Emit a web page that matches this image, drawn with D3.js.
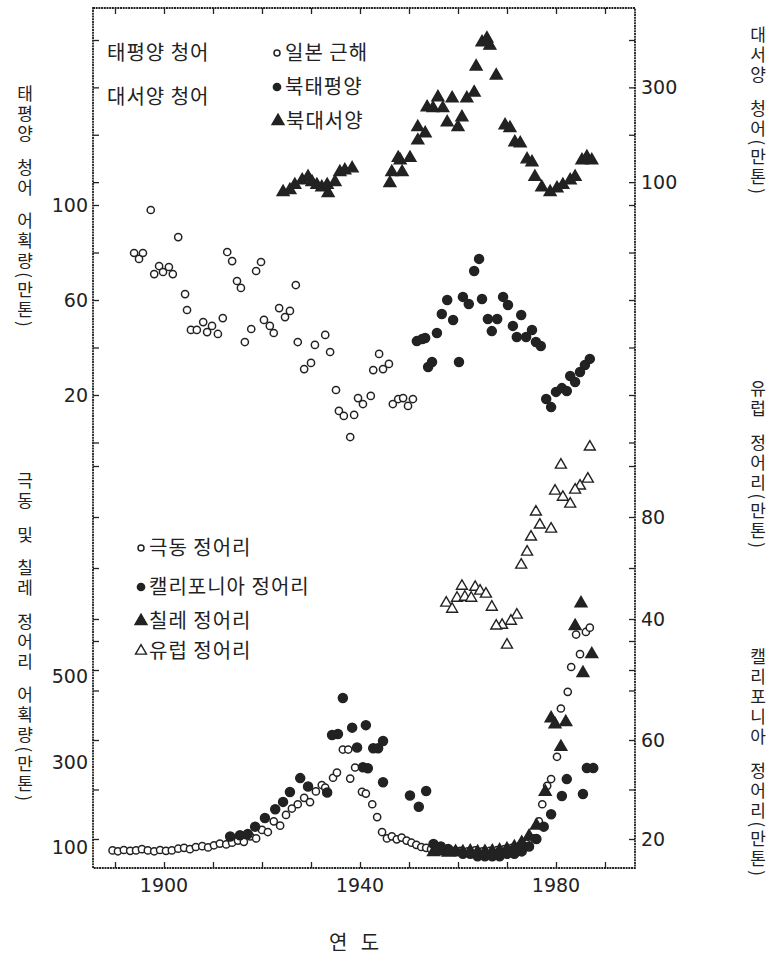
<!DOCTYPE html>
<html>
<head>
<meta charset="utf-8">
<script src="https://cdn.jsdelivr.net/npm/d3@7"></script>
<style>
body{margin:0;background:#fff}
text{font-family:"Noto Sans CJK KR",sans-serif;fill:#222}
.num{font-family:"DejaVu Sans",sans-serif}
</style>
</head>
<body>
<div id="chart"></div>
<script>
// Atlantic herring, 북대서양 (right top axis, 만톤)
const atlYear = [1924.3,1925.7,1926.7,1928.2,1929.4,1930.2,1931.2,1932.2,1933.3,1933.5,1934.9,1935.9,1936.9,1938.4,
  1946.1,1946.5,1948.2,1948.6,1947.8,1950.2,1951.8,1951.8,1953.3,1953.7,1954.9,1955.9,1956.9,1957.8,1958.8,1960.0,
  1960.8,1961.8,1963.3,1963.7,1964.9,1965.9,1966.5,1967.8,1969.6,1970.6,1971.6,1972.7,1974.1,1975.1,1975.7,1977.1,
  1978.8,1980.2,1981.4,1982.9,1983.9,1985.3,1986.3,1987.3];
const atlVal = [79,83,94,104,111,100,94,89,94,77,100,121,125,129,
  98,121,146,121,151,151,188,216,203,258,256,279,256,226,277,216,
  237,277,289,344,395,403,388,325,220,214,184,182,148,142,111,89,
  79,87,94,104,111,146,153,146];

// Pacific herring near Japan, 일본 근해 (left top axis)
const jpHerYear = [1893.9,1894.9,1895.7,1897.3,1898.0,1899.0,1899.8,1901.0,1901.8,1902.9,1904.3,1904.7,1905.5,1906.7,
  1908.0,1908.8,1909.8,1911.0,1912.0,1912.9,1913.9,1914.9,1915.7,1916.5,1917.8,1918.8,1919.8,1920.4,1921.6,1922.4,
  1923.5,1924.7,1925.7,1926.9,1927.3,1928.6,1930.0,1930.8,1932.9,1933.9,1935.1,1935.7,1936.7,1938.0,1938.8,1939.6,
  1940.6,1942.2,1942.7,1943.9,1944.7,1945.9,1946.7,1947.8,1948.8,1949.8,1950.8];
const jpHerVal = [79.8,77.3,79.8,97.9,70.9,74.3,71.8,73.9,70.9,86.5,62.5,55.8,47.4,47.4,
  50.7,46.5,49.1,45.7,52.4,80.2,76.4,68.0,65.1,42.3,47.8,72.2,76.0,51.6,49.1,46.1,
  56.6,52.8,55.4,66.3,42.3,30.9,33.5,41.1,45.3,38.1,22.1,13.3,11.2,2.3,11.6,18.7,
  16.2,19.6,30.5,37.3,30.9,33.1,16.2,18.3,18.7,15.4,18.3];

// North Pacific herring, 북태평양 (left top axis)
const npHerYear = [1951.6,1952.7,1953.3,1953.9,1954.7,1955.7,1956.7,1957.8,1959.0,1960.2,1961.0,1962.2,1963.3,1964.3,
  1964.9,1966.1,1966.9,1968.0,1969.2,1970.2,1971.2,1972.0,1972.9,1973.9,1975.1,1975.9,1976.9,1978.0,1979.0,1980.0,
  1981.2,1982.2,1982.9,1983.9,1984.9,1985.9,1986.9];
const npHerVal = [42.7,43.6,44.0,31.8,33.9,46.1,54.1,60.0,51.6,33.9,61.3,58.3,72.2,77.3,
  60.4,52.0,46.9,52.0,61.3,57.9,49.1,44.4,53.7,44.4,47.4,42.3,40.6,18.3,14.9,21.3,
  22.9,21.7,28.0,25.5,29.7,32.6,35.2];

// European sardine, 유럽 정어리 (right middle axis)
const euYear = [1986.9,1981.0,1986.5,1984.9,1983.9,1979.8,1981.4,1982.9,1975.9,1976.7,1979.0,1974.9,1974.1,1972.9,
  1960.8,1963.5,1964.5,1965.7,1959.8,1961.4,1962.7,1957.6,1958.8,1966.9,1972.0,1970.8,1969.0,1967.8,1970.0];
const euVal = [107.5,100.4,94.9,92.2,90.6,90.2,87.8,85.1,82.0,76.9,75.3,72.2,66.3,61.2,
  52.9,52.5,51.0,49.8,48.2,48.6,48.2,46.3,43.9,44.7,41.6,39.2,37.6,37.3,29.8];

// Far East sardine, 극동 정어리 (left bottom axis)
const feYear = [1889.5,1890.6,1891.8,1893.1,1894.3,1895.5,1896.7,1898.0,1899.2,1900.4,1901.6,1902.9,1904.1,1905.3,
  1906.5,1907.8,1909.0,1910.2,1911.4,1912.7,1913.9,1915.1,1916.3,1917.6,1918.8,1920.0,1921.2,1922.4,1923.7,1924.9,
  1926.1,1927.3,1928.6,1929.8,1931.0,1932.2,1932.9,1934.5,1935.3,1936.5,1937.6,1938.0,1939.0,1940.4,1941.2,1942.5,
  1943.5,1944.5,1945.5,1946.5,1947.5,1948.5,1949.5,1950.5,1951.5,1952.5,1953.5,1954.5,1956,1957.5,
  1959,1960.5,1962,1963.5,1965,1966.5,1968,1969.5,1971,1972.5,1974,1975.5,1976.5,1977.2,
  1978.2,1979.0,1980.2,1981.0,1982.4,1983.1,1984.1,1984.9,1986.1,1986.9];
const feVal = [92,90,93,91,92,95,92,90,93,91,92,96,98,95,
  100,102,99,104,108,106,110,115,112,125,120,140,135,160,150,175,
  190,200,215,205,230,245,239,262,274,328,328,260,286,229,225,200,
  170,135,120,125,118,122,115,110,105,100,98,95,93,92,
  90,91,90,92,90,91,93,95,98,102,108,120,160,200,
  243,259,311,424,463,521,597,551,603,613];

// California sardine, 캘리포니아 정어리 (right bottom axis)
const calYear = [1913.5,1915.5,1917.1,1918.6,1920.6,1922.7,1924.3,1925.7,1927.8,1929.4,1933.3,1934.3,1935.5,1936.5,
  1938.4,1939.4,1940.6,1941.2,1941.6,1942.7,1943.7,1944.7,1944.7,1950.2,1952,1953.5,1955,1956.5,
  1958,1959.5,1961,1962.5,1964,1965.5,1967,1968.5,1970,1971.5,1973,1974.5,1976,1977.5,
  1979,1981.2,1982.2,1985.5,1986.3,1987.6];
const calVal = [21,21.5,22,25,28.5,32,35,39,44.6,41.2,38.8,62,62.4,77,
  65,57,49,66,48.6,56.7,56.7,59.6,42.9,37.6,33,39.4,18,17,
  16,15,14,14,13,13,13,13,14,14,15,17,20,25,
  30,37.4,44.2,38.2,48.7,48.7];

// Chile sardine, 칠레 정어리 (left bottom axis)
const chYear = [1955,1956.5,1958,1959.5,1961,1962.5,1964,1965.5,1967,1968.5,1970,1971.5,1973,1974.5,1976,
  1977.8,1979.0,1979.8,1981.0,1982.0,1983.9,1985.1,1985.5,1987.3];
const chVal = [88,90,87,89,88,90,88,89,90,92,95,100,110,125,150,
  229,401,387,334,392,617,670,507,551];

const yearTicks = [1900,1940,1980];
const atlTicks = [100,200,300,400], atlLabels = [100,300];
const herTicks = [0,20,40,60,80,100], herLabels = [20,60,100];
const euTicks = [20,40,60,80,100], euLabels = [40,80];
const calTicks = [20,40,60,80,100], calLabels = [20,60];
const feLabels = [100,300,500];

const W = 775, H = 966;
const fr = {l:93, r:635, t:8, b:868};

const svg = d3.select("#chart").append("svg").attr("width",W).attr("height",H);

const x = d3.scaleLinear().domain([1890,1990]).range([115,605]);
const yAtl = d3.scaleLinear().domain([0,400]).range([229.5,40]);
const yHer = d3.scaleLinear().domain([0,100]).range([442.5,205]);
const yEu = d3.scaleLinear().domain([0,80]).range([721,517]);
const yCal = d3.scaleLinear().domain([20,60]).range([839,740]);
const yFe = d3.scaleLinear().domain([100,500]).range([847,676]);

svg.append("rect").attr("x",fr.l).attr("y",fr.t).attr("width",fr.r-fr.l).attr("height",fr.b-fr.t)
  .attr("fill","none").attr("stroke","#222").attr("stroke-width",1.8).attr("stroke-dasharray","2,0.7");

function ticksOn(scale, ticks, side){
  let ax = (side=="left" ? d3.axisRight(scale) : d3.axisLeft(scale))
    .tickValues(ticks).tickSize(6).tickFormat("");
  let g = svg.append("g").attr("transform","translate("+(side=="left"?fr.l:fr.r)+",0)").call(ax);
  g.select(".domain").remove();
  g.selectAll("line").attr("stroke","#222").attr("stroke-width",1.3);
}
function labelsOn(scale, labels, side){
  svg.append("g").selectAll("text").data(labels).enter().append("text")
    .attr("class","num")
    .attr("x", side=="left" ? fr.l-5 : fr.r+6)
    .attr("y", d => scale(d)+7)
    .attr("text-anchor", side=="left" ? "end" : "start")
    .style("font-size","19px").text(d => d);
}
ticksOn(yAtl, atlTicks, "left");  ticksOn(yAtl, atlTicks, "right");  labelsOn(yAtl, atlLabels, "right");
ticksOn(yHer, herTicks, "left");  ticksOn(yHer, herTicks, "right");  labelsOn(yHer, herLabels, "left");
ticksOn(yEu, euTicks, "left");    ticksOn(yEu, euTicks, "right");    labelsOn(yEu, euLabels, "right");
ticksOn(yCal, calTicks, "left");  ticksOn(yCal, calTicks, "right");  labelsOn(yCal, calLabels, "right");
labelsOn(yFe, feLabels, "left");

let xTop = svg.append("g").attr("transform","translate(0,"+fr.t+")")
  .call(d3.axisBottom(x).ticks(10).tickSize(6).tickFormat(""));
xTop.select(".domain").remove();
xTop.selectAll("line").attr("stroke","#222").attr("stroke-width",1.3);
let xBot = svg.append("g").attr("transform","translate(0,"+fr.b+")")
  .call(d3.axisTop(x).ticks(10).tickSize(6).tickFormat(""));
xBot.select(".domain").remove();
xBot.selectAll("line").attr("stroke","#222").attr("stroke-width",1.3);
svg.append("g").selectAll("text").data(yearTicks).enter().append("text")
  .attr("class","num").attr("x", d => x(d)).attr("y", fr.b+24)
  .attr("text-anchor","middle").style("font-size","19px").text(d => d);
svg.append("text").attr("x",354).attr("y",950).attr("text-anchor","middle")
  .style("font-size","20px").style("white-space","pre").text("연   도");

// markers
const triF = d3.symbol().type(d3.symbolTriangle).size(62);
const triO = d3.symbol().type(d3.symbolTriangle).size(52);
function mark(sel, kind){
  if (kind=="oc" || kind=="fc"){
    sel.append("circle").attr("r", kind=="fc" ? 4.5 : 3.6)
      .attr("fill", kind=="fc" ? "#222" : "#fff").attr("stroke","#222").attr("stroke-width",1.5);
  } else {
    sel.append("path").attr("d", kind=="ft" ? triF : triO)
      .attr("fill", kind=="ft" ? "#222" : "#fff").attr("stroke","#222").attr("stroke-width",1.4);
  }
}
function pts(years, vals, scale, kind){
  let data = years.map((d,i) => [d, vals[i]]);
  let g = svg.append("g").selectAll("g").data(data).enter().append("g")
    .attr("transform", d => "translate("+x(d[0])+","+scale(d[1])+")");
  mark(g, kind);
}
pts(atlYear, atlVal, yAtl, "ft");
pts(jpHerYear, jpHerVal, yHer, "oc");
pts(npHerYear, npHerVal, yHer, "fc");
pts(euYear, euVal, yEu, "ot");
pts(feYear, feVal, yFe, "oc");
pts(calYear, calVal, yCal, "fc");
pts(chYear, chVal, yFe, "ft");

// legends
function legText(xp, yc, t){
  svg.append("text").attr("x",xp).attr("y",yc+7).style("font-size","20px").style("letter-spacing","1px").text(t);
}
function legItem(xp, yc, kind, t){
  let g = svg.append("g").attr("transform","translate("+xp+","+yc+")");
  mark(g, kind);
  g.select("circle").attr("r", kind=="oc" ? 3 : 3.6);
  legText(xp+8, yc, t);
}
legText(107, 53, "태평양 청어");
legText(107, 97, "대서양 청어");
legItem(277, 53, "oc", "일본 근해");
legItem(277, 87, "fc", "북태평양");
legItem(278, 121, "ft", "북대서양");
legItem(141, 548, "oc", "극동 정어리");
legItem(141, 587, "fc", "캘리포니아 정어리");
legItem(141, 621, "ft", "칠레 정어리");
legItem(141, 651, "ot", "유럽 정어리");

// vertical titles: hangul upright, brackets and spaces turned sideways (narrow)
function vText(xp, yp, t){
  svg.append("text").attr("x",xp).attr("y",yp)
    .style("writing-mode","vertical-rl").style("text-orientation","mixed")
    .style("white-space","pre")
    .style("font-size","17px").style("letter-spacing","3px").text(t.replace(/ /g,"  "));
}
vText(25, 85, "태평양 청어 어획량(만톤)");
vText(25, 472, "극동 및 칠레 정어리 어획량(만톤)");
vText(758, 26, "대서양 청어(만톤)");
vText(758, 380, "유럽 정어리(만톤)");
vText(758, 648, "캘리포니아 정어리(만톤)");
</script>
</body>
</html>
